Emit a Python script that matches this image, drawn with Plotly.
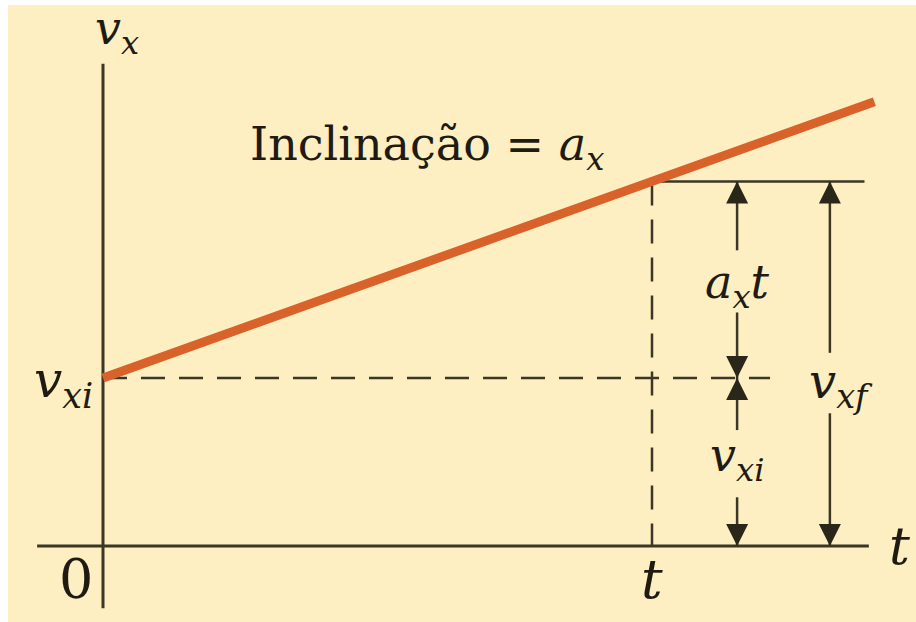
import plotly.graph_objects as go

# Kinematics quantities (arbitrary units): t at the marked instant, initial and final velocity
t_mark = 1.0
v_xi = 1.0
a_x = 1.17
v_xf = v_xi + a_x * t_mark
t_end = 1.405            # how far the velocity line runs past t
axis_t = [-0.12, 1.395]  # horizontal axis extent
axis_v = [-0.37, 2.87]   # vertical axis extent
t_arrow_1 = 1.155        # column of the a_x t / v_xi arrows
t_arrow_2 = 1.324        # column of the v_xf arrow
dashed_h_end = 1.215

# dimension arrows: (t, tail v, head v)
arrows = [
    (t_arrow_1, 1.76, v_xf),   # a_x t, upper half
    (t_arrow_1, 1.39, v_xi),   # a_x t, lower half
    (t_arrow_1, 0.69, v_xi),   # v_xi, upper half
    (t_arrow_1, 0.29, 0.0),    # v_xi, lower half
    (t_arrow_2, 1.15, v_xf),   # v_xf, upper half
    (t_arrow_2, 0.79, 0.0),    # v_xf, lower half
]

BG = "#FDEFC2"
INK = "#3b3626"
TXT = "#1f1b12"
HEAD = "#2a2619"
ORANGE = "#D8622A"
FONT = "DejaVu Serif"

fig = go.Figure()

# coordinate axes
fig.add_trace(go.Scatter(x=axis_t, y=[0, 0], mode="lines",
                         line=dict(color=INK, width=3)))
fig.add_trace(go.Scatter(x=[0, 0], y=axis_v, mode="lines",
                         line=dict(color=INK, width=3)))

# dashed guides at v_xi and at t
fig.add_trace(go.Scatter(x=[0, dashed_h_end], y=[v_xi, v_xi], mode="lines",
                         line=dict(color=INK, width=2.5, dash="24px,14px")))
fig.add_trace(go.Scatter(x=[t_mark, t_mark], y=[v_xf, 0], mode="lines",
                         line=dict(color=INK, width=2.5, dash="24px,14px")))

# solid level line at v_xf
fig.add_trace(go.Scatter(x=[t_mark, axis_t[1] - 0.008], y=[v_xf, v_xf], mode="lines",
                         line=dict(color=INK, width=2.5)))

# velocity line v = v_xi + a_x t
fig.add_trace(go.Scatter(x=[0, t_end], y=[v_xi, v_xi + a_x * t_end], mode="lines",
                         line=dict(color=ORANGE, width=9)))

# arrow shafts
shaft_x, shaft_y = [], []
for t, v0, v1 in arrows:
    shaft_x += [t, t, None]
    shaft_y += [v0, v1, None]
fig.add_trace(go.Scatter(x=shaft_x, y=shaft_y, mode="lines",
                         line=dict(color=INK, width=2.5)))

# arrow heads, tip sitting on the head value
fig.add_trace(go.Scatter(
    x=[a[0] for a in arrows], y=[a[2] for a in arrows], mode="markers",
    marker=dict(symbol=["arrow-up" if v1 > v0 else "arrow-down" for _, v0, v1 in arrows],
                size=22, color=HEAD, line=dict(width=0)),
    cliponaxis=False,
))

annotations = []


def label(t, v, text, size, xanchor="center", yanchor="middle"):
    annotations.append(dict(x=t, y=v, xref="x", yref="y", text=text, showarrow=False,
                            xanchor=xanchor, yanchor=yanchor,
                            font=dict(family=FONT, size=size, color=TXT)))


label(0.025, 3.06, "<i>v</i><sub><i>x</i></sub>", 46)
label(-0.015, 0.97, "<i>v</i><sub><i>xi</i></sub>", 50, xanchor="right")
label(1.45, 0.0, "<i>t</i>", 52)
label(-0.05, -0.2, "0", 54)
label(t_mark, -0.2, "<i>t</i>", 54)
label(t_arrow_1, 1.55, "<i>a</i><sub><i>x</i></sub><i>t</i>", 46)
label(t_arrow_1, 0.52, "<i>v</i><sub><i>xi</i></sub>", 46)
label(t_arrow_2 + 0.02, 0.96, "<i>v</i><sub><i>xf</i></sub>", 48)
label(0.59, 2.37, "Inclinação = <i>a</i><sub><i>x</i></sub>", 46)

fig.update_layout(
    width=916, height=622,
    margin=dict(l=8, r=0, t=5, b=0),
    paper_bgcolor="white",
    plot_bgcolor=BG,
    showlegend=False,
    annotations=annotations,
    xaxis=dict(visible=False, range=[-0.17304, 1.48087], fixedrange=True),
    yaxis=dict(visible=False, range=[-0.45238, 3.2202], fixedrange=True),
)

fig.write_html("out.html")
